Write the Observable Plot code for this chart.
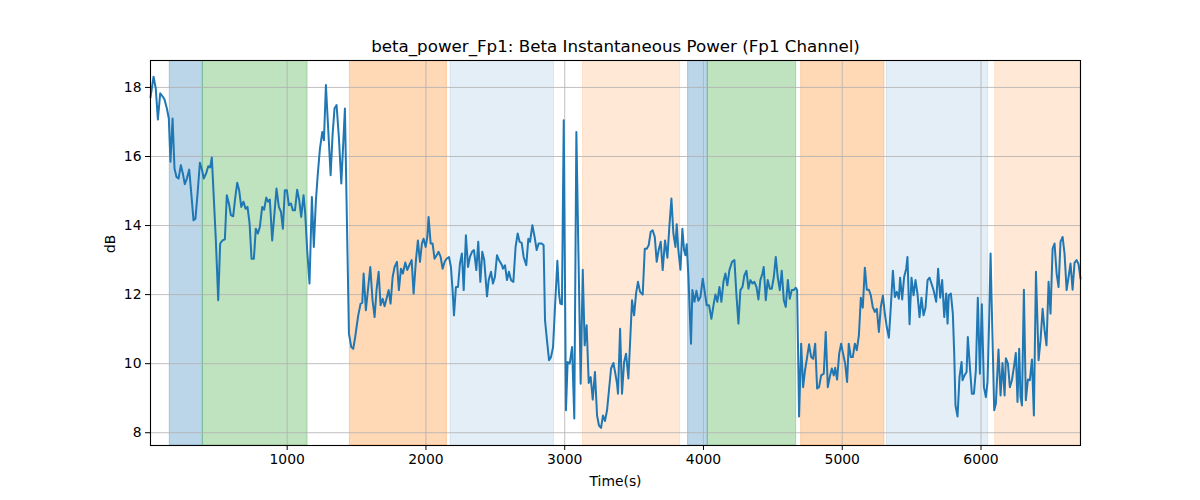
<!DOCTYPE html>
<html>
<head>
<meta charset="utf-8">
<script src="https://cdn.jsdelivr.net/npm/d3@7"></script>
<script src="https://cdn.jsdelivr.net/npm/@observablehq/plot@0.6"></script>
<style>
  html, body { margin: 0; padding: 0; background: white; }
</style>
</head>
<body>
<div id="chart"></div>
<script>
const title = "beta_power_Fp1: Beta Instantaneous Power (Fp1 Channel)";
const xLabel = "Time(s)";
const yLabel = "dB";
const xTicks = [1000, 2000, 3000, 4000, 5000, 6000];
const yTicks = [8, 10, 12, 14, 16, 18];

const time = [
  15,37,53,68,85,104,116,133,147,159,174,188,202,217,234,248,262,277,294,311,325,339,354,371,387,399,416,431,445,457,472,486,503,517,534,551,565,580,594,611,625,640,654,669,685,700,714,729,743,760,774,789,803,820,834,849,863,875,
  892,923,940,955,969,983,998,1012,1027,1041,1056,1072,1087,1101,1118,1130,1144,1161,1178,1192,1207,1221,1236,1253,1265,1279,1296,1313,1327,1341,1356,1373,1390,1416,1445,1462,1476,1490,1512,1529,1541,1551,1567,1584,1599,1615,1630,1644,1659,1673,1688,1702,1719,
  1731,1745,1760,1774,1791,1805,1820,1834,1851,1865,1880,1897,1911,1928,1942,1957,1971,1983,1998,2010,2019,2034,2048,2062,2077,2091,2106,2120,2135,2149,2166,2180,2192,2202,2216,2231,2245,2259,2272,2288,2303,2317,2332,2346,2363,2377,2392,2406,2420,2440,2452,2469,2483,2497,2512,2526,2548,
  2555,2570,2584,2598,2613,2630,2646,2661,2675,2690,2704,2723,2738,2750,2767,2783,2798,2812,2834,2848,2858,2872,2887,2901,2916,2930,2947,2959,2968,2980,2993,3009,3021,3036,3053,3069,3084,3115,3130,3144,3158,3173,3187,3202,3218,3233,3247,3262,3276,3290,3305,3319,3334,3351,3365,3377,
  3384,3399,3413,3428,3442,3459,3473,3485,3500,3514,3528,3543,3562,3577,3591,3605,3620,3634,3649,3663,3677,3692,3706,3723,3740,3754,3769,3783,3798,3807,3819,3834,3848,3860,3870,3879,3891,3910,3920,3935,3949,3963,3978,3995,4009,4023,4040,4057,4072,4086,4100,4115,4129,4144,4158,4172,4187,4206,
  4223,4237,4252,4266,4281,4295,4310,4324,4338,4353,4367,4382,4396,4410,4425,4434,4449,4463,4478,4492,4507,4521,4535,4550,4564,4579,4593,4608,4622,4636,4651,4665,4675,4689,4704,4718,4732,4747,4761,4776,4790,4805,4819,4833,4848,4867,4881,4896,4910,4925,4939,4949,4963,4978,4992,5006,5021,5035,
  5047,5062,5076,5091,5105,5120,5134,5148,5163,5177,5192,5206,5220,5235,5249,5264,5278,5293,5307,5321,5336,5350,5365,5379,5393,5408,5417,5432,5446,5461,5470,5485,5499,5514,5528,5542,5557,5571,5586,5600,5615,5629,5643,5658,5677,5691,5706,5720,5735,5749,5759,5768,5783,5797,5807,5816,5831,5845,5860,
  5867,5881,5896,5905,5920,5934,5949,5963,5977,5992,6006,6021,6035,6047,6059,6069,6081,6095,6107,6126,6141,6155,6170,6179,6194,6208,6223,6237,6251,6263,6275,6285,6295,6309,6323,6338,6352,6367,6381,6396,6415,6429,6444,6458,6472,6487,6501,6516,6530,6545,6559,6573,6588,6602,6617,6631,6645,6660,6674,6689,6703,6717
];

const power = [
  17.71,18.31,17.97,17.07,17.83,17.73,17.65,17.39,17.10,15.85,17.10,15.65,15.41,15.36,15.75,15.51,15.20,15.36,15.62,14.83,14.15,14.20,14.92,15.82,15.60,15.36,15.51,15.72,15.68,15.97,14.73,13.57,11.84,13.48,13.57,13.60,14.88,14.64,14.30,14.27,14.78,15.24,15.02,14.54,14.69,14.49,14.54,14.06,13.04,13.04,13.91,13.77,13.96,14.54,14.46,14.81,14.69,14.75,
  13.57,15.07,14.54,14.40,13.91,15.02,15.02,14.59,14.64,14.44,14.44,15.04,14.73,14.25,14.88,14.35,13.29,12.32,14.83,13.38,14.73,15.51,16.23,16.71,16.47,18.07,16.76,15.46,16.62,17.39,17.49,16.52,15.22,17.39,10.87,10.48,10.43,10.77,11.40,11.74,11.76,12.61,11.55,12.22,12.80,11.84,11.35,12.13,12.66,11.69,11.88,11.66,11.93,
  12.13,11.74,12.51,12.80,12.95,12.13,12.75,12.61,12.93,12.71,12.85,13.00,12.03,13.00,13.57,12.95,13.48,13.62,13.38,13.67,14.25,13.48,13.48,13.04,13.14,13.24,13.09,12.75,12.95,13.04,13.09,12.80,12.13,11.40,12.22,12.22,12.90,13.19,12.13,13.72,12.80,13.09,13.24,13.29,12.71,13.53,12.37,13.24,13.00,11.95,12.42,12.66,12.32,12.51,13.14,13.00,12.85,
  12.75,12.85,12.42,12.66,12.42,12.37,13.38,13.77,13.53,13.50,13.09,12.85,13.62,13.53,14.01,13.67,13.29,13.48,13.48,13.43,11.26,10.68,10.10,10.19,10.48,11.64,12.98,12.03,11.74,11.72,17.05,8.65,10.05,10.00,10.48,8.41,16.71,9.42,12.72,10.53,11.11,9.44,9.61,8.96,9.76,8.50,8.21,8.14,8.50,8.34,8.65,9.23,9.86,10.02,9.71,9.42,
  9.13,11.01,9.13,10.05,10.29,9.57,10.77,11.84,11.40,12.03,12.37,12.08,12.00,13.33,13.33,13.43,13.82,13.86,13.67,12.95,13.29,13.53,12.71,13.57,13.07,13.96,14.78,13.77,13.38,14.04,13.29,12.72,13.91,13.29,13.14,13.46,12.56,10.58,12.13,11.79,12.11,11.82,11.93,12.46,12.08,11.69,11.69,11.30,11.69,12.00,11.79,12.22,11.79,12.37,12.61,12.27,12.71,12.95,
  13.00,12.03,11.16,12.13,12.22,12.56,12.69,12.17,12.42,12.32,12.37,12.22,11.86,12.42,12.61,12.80,11.84,12.42,12.17,12.17,12.51,13.09,12.51,12.13,12.69,11.84,11.64,12.42,11.88,12.13,12.13,12.20,12.13,8.47,10.58,9.32,9.81,10.19,10.56,10.19,10.14,10.58,9.28,9.32,9.66,9.71,10.92,9.32,9.61,9.86,9.66,9.88,9.54,10.29,10.58,10.29,10.00,9.47,
  10.58,10.19,10.19,10.58,10.39,10.82,11.91,11.62,12.78,12.14,12.14,11.98,11.64,11.50,11.59,10.92,11.64,11.97,11.45,11.06,10.75,11.64,12.69,11.93,12.08,11.88,12.49,11.86,12.51,12.75,13.09,11.14,12.49,11.98,12.42,12.03,11.35,11.91,11.40,11.62,12.42,12.49,12.32,12.13,11.79,12.75,11.91,12.42,11.35,12.03,11.16,11.98,12.03,11.45,10.29,8.79,8.47,9.61,10.05,
  9.52,9.66,9.76,10.77,9.90,9.13,9.13,9.81,11.91,9.71,11.72,9.32,9.03,9.47,11.30,13.19,11.06,8.65,8.84,10.41,9.08,10.02,9.08,10.16,10.00,9.32,9.52,9.90,10.31,8.89,10.43,9.03,8.79,12.14,8.94,9.54,9.52,10.12,8.50,12.66,10.10,10.68,11.59,10.97,10.53,12.37,11.45,13.33,13.48,12.61,12.22,13.53,13.67,13.19,12.13,12.51,12.90,12.14,12.92,13.00,12.88,12.46
];

// shaded phases
const spanStart = [154, 392, 1452, 2178, 3132, 3889, 4031, 4704, 5321, 6102];
const spanEnd   = [392, 1147, 2151, 2923, 3831, 4031, 4668, 5304, 6052, 6717];
const spanPhase = ["p1","p2","p3","p4","p5","p1","p2","p3","p4","p5"];

const series = time.map((t, i) => ({t, v: power[i]}));
const spans = spanStart.map((s, i) => ({start: s, end: spanEnd[i], phase: spanPhase[i]}));

const phaseStyle = {
  p1: {color: "#1f77b4", alpha: 0.3},
  p2: {color: "#2ca02c", alpha: 0.3},
  p3: {color: "#ff7f0e", alpha: 0.3},
  p4: {color: "#1f77b4", alpha: 0.12},
  p5: {color: "#ff7f0e", alpha: 0.17}
};

const spanMarks = Object.keys(phaseStyle).map(p =>
  Plot.rect(spans.filter(d => d.phase === p), {
    x1: "start", x2: "end",
    fill: phaseStyle[p].color, fillOpacity: phaseStyle[p].alpha,
    stroke: phaseStyle[p].color, strokeOpacity: phaseStyle[p].alpha, strokeWidth: 1,
    clip: true
  })
);

const chart = Plot.plot({
  width: 1200,
  height: 500,
  marginLeft: 150,
  marginRight: 120,
  marginTop: 60,
  marginBottom: 55,
  style: {fontFamily: "DejaVu Sans", fontSize: "13.9px", background: "white", color: "black"},
  x: {domain: [15, 6717]},
  y: {domain: [7.63, 18.78]},
  marks: [
    ...spanMarks,
    Plot.gridX(xTicks, {stroke: "#b0b0b0", strokeOpacity: 1, strokeWidth: 0.8}),
    Plot.gridY(yTicks, {stroke: "#b0b0b0", strokeOpacity: 1, strokeWidth: 0.8}),
    Plot.line(series, {x: "t", y: "v", stroke: "#1f77b4", strokeWidth: 2, strokeLinejoin: "round"}),
    Plot.frame({stroke: "black", strokeWidth: 1.1}),
    Plot.axisX(xTicks, {tickSize: 5, tickPadding: 4, tickFormat: d3.format("d"), label: null, fontSize: 13.9}),
    Plot.axisY(yTicks, {tickSize: 5, tickPadding: 4, tickFormat: d3.format("d"), label: null, fontSize: 13.9}),
    Plot.text([title], {frameAnchor: "top", dy: -14, fontSize: 16.7, lineAnchor: "middle"}),
    Plot.text([xLabel], {frameAnchor: "bottom", dy: 36, fontSize: 13.9, lineAnchor: "middle"}),
    Plot.text([yLabel], {frameAnchor: "left", dx: -40, rotate: -90, fontSize: 13.9, lineAnchor: "middle"})
  ]
});
document.getElementById("chart").appendChild(chart);
</script>
</body>
</html>
